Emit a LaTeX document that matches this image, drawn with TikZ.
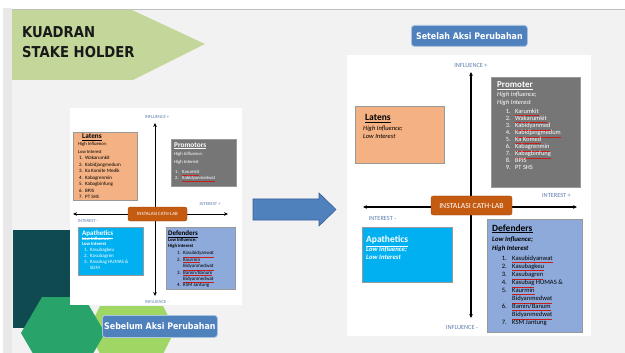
\documentclass[tikz,border=0pt]{standalone}
\usepackage{fontspec}
\setmainfont{Carlito}
\newfontfamily\slidefont[FakeStretch=0.88]{DejaVu Sans}
\usetikzlibrary{arrows.meta,shadows}

\definecolor{slidebg}{RGB}{242,242,242}
\definecolor{stripbg}{RGB}{232,232,232}
\definecolor{titlegreen}{RGB}{196,215,155}
\definecolor{tealdark}{RGB}{14,74,80}
\definecolor{hexgreen}{RGB}{40,163,106}
\definecolor{hexlime}{RGB}{160,214,100}
\definecolor{btnblue}{RGB}{79,129,189}
\definecolor{btnedge}{RGB}{170,195,225}
\definecolor{peach}{RGB}{244,177,131}
\definecolor{promgray}{RGB}{118,118,118}
\definecolor{apacyan}{RGB}{0,176,240}
\definecolor{deflav}{RGB}{142,170,219}
\definecolor{cathorange}{RGB}{197,90,17}
\definecolor{axislbl}{RGB}{95,125,175}
\definecolor{arrowedge}{RGB}{56,96,150}
\definecolor{squig}{RGB}{200,30,30}

\newcommand\fsz[1]{\fontsize{#1}{#1}\selectfont}
% names flagged by the spell checker: red underline under the word
\newcommand\wl[1]{{\color{squig}\underline{\color{white}#1}}}
\newcommand\kl[1]{{\color{squig}\underline{\color{black}#1}}}

\tikzset{
  qbox/.style={draw=black!40, line width=0.4pt, anchor=north west, inner sep=0pt,
    drop shadow={shadow xshift=1pt, shadow yshift=-1.2pt, opacity=0.35}},
  cath/.style={fill=cathorange, draw=cathorange!80!black, line width=0.3pt,
    rounded corners=2pt, text=white, inner sep=0pt},
  quadaxis/.style={line width=#1,
    {Stealth[length=4pt,width=3.6pt]}-{Stealth[length=4pt,width=3.6pt]}},
  axlbl/.style={text=axislbl, inner sep=0pt},
  txt/.style={inner sep=0pt, anchor=base west},
  num/.style={inner sep=0pt, anchor=base east},
  button/.style={fill=btnblue, draw=btnedge, line width=0.8pt, rounded corners=3pt,
    text=white, font=\slidefont\bfseries\fsz{9}, inner sep=0pt, anchor=north west},
}

\begin{document}
\begin{tikzpicture}[x=1pt,y=-1pt]
\useasboundingbox (0,0) rectangle (625,353);

% slide background
\fill[white] (0,0) rectangle (625,353);
\fill[stripbg] (3,8) rectangle (12,353);
\fill[slidebg] (12,10) rectangle (625,353);
\draw[black!25, line width=0.8pt] (12,9.6) -- (625,9.6);

% title banner
\fill[titlegreen] (12,10) -- (132,10) -- (205,44) -- (133,80) -- (12,80) -- cycle;
\node[txt, font=\slidefont\bfseries\fsz{15}, text=black!90] (title1) at (22,38) {KUADRAN};
\node[txt, font=\slidefont\bfseries\fsz{15}, text=black!90] (title2) at (22,58) {STAKE HOLDER};

% decorative shapes bottom left
\fill[tealdark] (13,230) rectangle (70,328);
\fill[hexlime] (100,306) -- (163,306) -- (175,330) -- (163,354) -- (100,354) -- (88,330) -- cycle;
\fill[hexgreen] (105,333) -- (84,297) -- (42,297) -- (21,333) -- (42,369) -- (84,369) -- cycle;

% ---------------- before: small quadrant ----------------
\fill[white] (70,108) rectangle (242,305);

\coordinate (lTop) at (155,123);
\coordinate (lBot) at (155,296);
\coordinate (lLeft) at (73,214);
\coordinate (lRight) at (228,214);
\draw[quadaxis=1pt] (lBot) -- (lTop);
\draw[quadaxis=1pt] (lLeft) -- (lRight);
\node[cath, minimum width=59pt, minimum height=14pt, font=\fsz{4.9}] (lCath) at (157.5,214) {INSTALASI CATH-LAB};

\node[axlbl, font=\fsz{4.6}] (lInfP) at (157,117) {INFLUENCE +};
\node[axlbl, font=\fsz{4.6}] (lIntP) at (210,204) {INTEREST +};
\node[axlbl, font=\fsz{4.6}] (lIntM) at (88,221) {INTEREST -};
\node[axlbl, font=\fsz{4.6}] (lInfM) at (157,302) {INFLUENCE -};

% Latens
\node[qbox, fill=peach, minimum width=64pt, minimum height=68pt] (lLat) at (73,132) {};
\node[txt, font=\bfseries\fsz{7.3}] (lLatT) at (82,139) {\underline{Latens}};
\node[txt, font=\fsz{4.7}] (lLatS1) at (78,145.5) {High Influence;};
\node[txt, font=\fsz{4.7}] (lLatS2) at (78,153.3) {Low Interest};
\foreach \n/\t [count=\i from 0] in {1./Wakarumkit, 2./Kabidjangmedum, 3./Ka Komite Medik,
    4./Kabagrenmin, 5./Kabagbinfung, 6./BPJS, 7./PT SHS}{
  \node[num, font=\fsz{5}] (lLatN\i) at (83,160+6.45*\i) {\n};
  \node[txt, font=\fsz{5}] (lLatI\i) at (85,160+6.45*\i) {\t};
}

% Promotors
\node[qbox, fill=promgray, minimum width=65pt, minimum height=47pt] (lPro) at (171,139) {};
\node[txt, font=\bfseries\fsz{7.3}, text=white] (lProT) at (174,147) {\underline{Promotors}};
\node[txt, font=\fsz{4.7}, text=white] (lProS1) at (174,155.5) {High Influence;};
\node[txt, font=\fsz{4.7}, text=white] (lProS2) at (174,163.5) {High Interest};
\foreach \n/\t [count=\i from 0] in {1./\wl{Karumkit}, 2./\wl{Kabidyanmedwat}}{
  \node[num, font=\fsz{4.7}, text=white] (lProN\i) at (179,173.3+5.7*\i) {\n};
  \node[txt, font=\fsz{4.7}, text=white] (lProI\i) at (182,173.3+5.7*\i) {\t};
}

% Apathetics
\node[qbox, fill=apacyan, minimum width=65pt, minimum height=48pt] (lApa) at (78,227) {};
\node[txt, font=\bfseries\fsz{7}, text=white] (lApaT) at (82,235.5) {\underline{Apathetics}};
\node[txt, font=\bfseries\fsz{4.7}, text=white] (lApaS1) at (82,240.8) {Low Influence;};
\node[txt, font=\bfseries\fsz{4.7}, text=white] (lApaS2) at (82,245.9) {Low Interest};
\foreach \n/\t [count=\i from 0] in {1./Kasubagkeu, 2./Kasubagren, 3./Kasubag HUMAS \&, {}/SDM}{
  \node[num, font=\fsz{5}, text=white] (lApaN\i) at (88,251.8+6*\i) {\n};
  \node[txt, font=\fsz{5}, text=white] (lApaI\i) at (90,251.8+6*\i) {\t};
}

% Defenders
\node[qbox, fill=deflav, minimum width=69pt, minimum height=62pt] (lDef) at (166,227) {};
\node[txt, font=\bfseries\fsz{7}] (lDefT) at (168,235.5) {\underline{Defenders}};
\node[txt, font=\bfseries\fsz{4.7}] (lDefS1) at (168,241.6) {Low Influence;};
\node[txt, font=\bfseries\fsz{4.7}] (lDefS2) at (168,247.6) {High Interest};
\foreach \n/\t [count=\i from 0] in {1./\kl{Kasubidyanwat}, 2./\kl{Kaurmin}, {}/\kl{Bidyanmedwat},
    3./{\kl{Bamin/Banum}}, {}/\kl{Bidyanmedwat}, 4./KSM Jantung}{
  \node[num, font=\fsz{5}] (lDefN\i) at (181,254.8+6.4*\i) {\n};
  \node[txt, font=\fsz{5}] (lDefI\i) at (183,254.8+6.4*\i) {\t};
}

% caption buttons
\node[button, minimum width=115pt, minimum height=22pt] (before) at (102,315) {Sebelum Aksi Perubahan};
\node[button, minimum width=116pt, minimum height=21pt] (after) at (411,25) {Setelah Aksi Perubahan};

% change arrow
\filldraw[fill=btnblue, draw=arrowedge, line width=0.6pt]
  (253,199) -- (319,199) -- (319,193) -- (336,209.5) -- (319,226) -- (319,220) -- (253,220) -- cycle;

% ---------------- after: large quadrant ----------------
\fill[white] (347,55) rectangle (591,336);

\coordinate (rTop) at (471,72);
\coordinate (rBot) at (471,318);
\coordinate (rLeft) at (363,207);
\coordinate (rRight) at (577,207);
\draw[quadaxis=1.5pt] (rBot) -- (rTop);
\draw[quadaxis=1.5pt] (rLeft) -- (rRight);
\node[cath, minimum width=81pt, minimum height=19pt, font=\fsz{7.8}] (rCath) at (471.5,205.5) {INSTALASI CATH-LAB};

\node[axlbl, font=\fsz{6.3}] (rInfP) at (471,65) {INFLUENCE +};
\node[axlbl, font=\fsz{6.3}] (rIntP) at (556.5,195) {INTEREST +};
\node[axlbl, font=\fsz{6.3}] (rIntM) at (382.5,218) {INTEREST -};
\node[axlbl, font=\fsz{6.3}] (rInfM) at (462,327) {INFLUENCE -};

% Latens
\node[qbox, fill=peach, minimum width=89pt, minimum height=57pt] (rLat) at (355,106) {};
\node[txt, font=\bfseries\fsz{9.5}] (rLatT) at (365,121) {\underline{Latens}};
\node[txt, font=\itshape\fsz{6.5}] (rLatS1) at (363,131) {High Influence;};
\node[txt, font=\itshape\fsz{6.5}] (rLatS2) at (363,139) {Low Interest};

% Promoter
\node[qbox, fill=promgray, minimum width=89pt, minimum height=110pt] (rPro) at (491,77) {};
\node[txt, font=\bfseries\fsz{9}, text=white] (rProT) at (497,88) {\underline{Promoter}};
\node[txt, font=\itshape\fsz{6.5}, text=white] (rProS1) at (497,97) {High Influence;};
\node[txt, font=\itshape\fsz{6.5}, text=white] (rProS2) at (497,105) {High Interest};
\foreach \n/\t [count=\i from 0] in {1./\wl{Karumkit}, 2./\wl{Wakarumkit}, 3./\wl{Kabidyanmed},
    4./\wl{Kabidjangmedum}, 5./\wl{Ka Komed}, 6./\wl{Kabagrenmin}, 7./\wl{Kabagbinfung},
    8./BPJS, 9./PT SHS}{
  \node[num, font=\fsz{6.4}, text=white] (rProN\i) at (511,114+6.9*\i) {\n};
  \node[txt, font=\fsz{6.4}, text=white] (rProI\i) at (515,114+6.9*\i) {\t};
}

% Apathetics
\node[qbox, fill=apacyan, minimum width=90pt, minimum height=55pt] (rApa) at (362,227) {};
\node[txt, font=\bfseries\fsz{9.5}, text=white] (rApaT) at (366,243) {\underline{Apathetics}};
\node[txt, font=\bfseries\itshape\fsz{6.8}, text=white] (rApaS1) at (366,251.5) {Low Influence;};
\node[txt, font=\bfseries\itshape\fsz{6.8}, text=white] (rApaS2) at (366,259.5) {Low Interest};

% Defenders
\node[qbox, fill=deflav, minimum width=95pt, minimum height=113pt] (rDef) at (487,219) {};
\node[txt, font=\bfseries\fsz{9.5}] (rDefT) at (492,231) {\underline{Defenders}};
\node[txt, font=\bfseries\itshape\fsz{6.8}] (rDefS1) at (492,241.5) {Low Influence;};
\node[txt, font=\bfseries\itshape\fsz{6.8}] (rDefS2) at (492,250.5) {High Interest};
\foreach \n/\t [count=\i from 0] in {1./\kl{Kasubidyanwat}, 2./\kl{Kasubagkeu}, 3./\kl{Kasubagren},
    4./{\kl{Kasubag} HUMAS \&}, 5./\kl{Kaurmin}, {}/\kl{Bidyanmedwat}, 6./{\kl{Bamin/Banum}},
    {}/\kl{Bidyanmedwat}, 7./KSM Jantung}{
  \node[num, font=\fsz{6.6}] (rDefN\i) at (507,260+8.1*\i) {\n};
  \node[txt, font=\fsz{6.6}] (rDefI\i) at (512,260+8.1*\i) {\t};
}

\end{tikzpicture}
\end{document}
